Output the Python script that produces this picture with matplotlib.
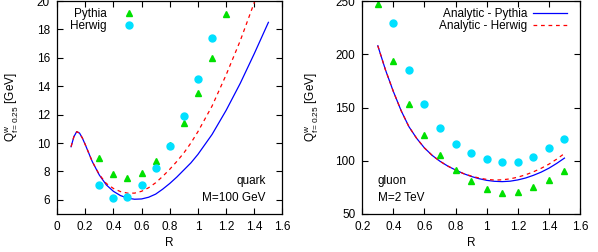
import matplotlib
matplotlib.use("Agg")
import matplotlib.pyplot as plt

plt.rcParams['font.family'] = ['Liberation Sans', 'DejaVu Sans']
plt.rcParams['mathtext.fontset'] = 'custom'
plt.rcParams['mathtext.rm'] = 'Liberation Sans'
plt.rcParams['mathtext.it'] = 'Liberation Sans'
plt.rcParams['mathtext.default'] = 'regular'

# quark, M=100 GeV
q_R_pythia = [0.3, 0.4, 0.5, 0.6, 0.7, 0.8, 0.9, 1.0, 1.1, 1.2]
q_pythia = [8.92, 7.8, 7.51, 7.89, 8.73, 9.85, 11.39, 13.5, 16.0, 19.06]
q_R_herwig = [0.3, 0.4, 0.5, 0.6, 0.7, 0.8, 0.9, 1.0, 1.1]
q_herwig = [7.04, 6.13, 6.22, 7.02, 8.22, 9.81, 11.9, 14.51, 17.42]

q_R_an_py = [0.10, 0.12, 0.14, 0.16, 0.18, 0.20, 0.25, 0.30, 0.35, 0.40, 0.45, 0.50, 0.55,
             0.60, 0.65, 0.70, 0.75, 0.80, 0.85, 0.90, 0.95, 1.00, 1.10, 1.20, 1.30, 1.40, 1.50]
q_an_py = [9.74, 10.45, 10.8, 10.7, 10.35, 9.9, 8.7, 7.75, 7.05, 6.6, 6.3, 6.12, 6.04,
           6.06, 6.18, 6.4, 6.75, 7.15, 7.6, 8.1, 8.6, 9.2, 10.6, 12.3, 14.2, 16.3, 18.5]
q_R_an_hw = [0.10, 0.12, 0.14, 0.16, 0.18, 0.20, 0.25, 0.30, 0.35, 0.40, 0.45, 0.50, 0.55,
             0.60, 0.65, 0.70, 0.75, 0.80, 0.85, 0.90, 0.95, 1.00, 1.10, 1.20, 1.30, 1.40, 1.42]
q_an_hw = [9.74, 10.45, 10.8, 10.7, 10.35, 9.9, 8.7, 7.78, 7.15, 6.8, 6.58, 6.47, 6.47,
           6.6, 6.85, 7.2, 7.65, 8.15, 8.7, 9.3, 10.0, 10.8, 12.6, 14.8, 17.2, 19.9, 20.5]

# gluon, M=2 TeV
g_R_pythia = [0.3, 0.4, 0.5, 0.6, 0.7, 0.8, 0.9, 1.0, 1.1, 1.2, 1.3, 1.4, 1.5]
g_pythia = [247, 193.7, 153.4, 124.4, 105, 90.9, 80.6, 73.4, 69.7, 70.9, 75.3, 81.5, 90.3]
g_R_herwig = [0.4, 0.5, 0.6, 0.7, 0.8, 0.9, 1.0, 1.1, 1.2, 1.3, 1.4, 1.5]
g_herwig = [229.7, 185.6, 153.4, 131.2, 115.6, 107.2, 101.6, 99.3, 99.3, 104, 111.9, 120]

g_R_an = [0.30, 0.35, 0.40, 0.45, 0.50, 0.55, 0.60, 0.65, 0.70, 0.75, 0.80, 0.85, 0.90,
          0.95, 1.00, 1.05, 1.10, 1.15, 1.20, 1.25, 1.30, 1.35, 1.40, 1.45, 1.50]
g_an_py = [208, 185, 165, 147, 132, 121, 112, 105, 99.5, 95, 91.3, 88, 85.3,
           83.2, 81.6, 80.7, 80.4, 80.8, 82, 83.8, 86.3, 89.3, 93, 97.5, 102.5]
g_an_hw = [208, 185, 165, 147, 132, 121, 112, 105, 99.5, 95, 91.3, 88, 85.7,
           83.8, 82.5, 81.9, 82.1, 83, 84.6, 86.8, 89.6, 92.9, 96.8, 101.5, 106.8]

green = '#00e000'
cyan = '#00e0ff'
fs = 8.5

fig = plt.figure(figsize=(5.98, 2.52), dpi=100)
ax1 = fig.add_axes([0.0953, 0.1508, 0.3771, 0.845])
ax2 = fig.add_axes([0.6058, 0.1508, 0.3641, 0.845])

# left panel
ax1.plot(q_R_an_py, q_an_py, color='blue', lw=0.9)
ax1.plot(q_R_an_hw, q_an_hw, color='red', lw=0.9, dashes=(3, 3))
ax1.plot(q_R_pythia, q_pythia, ls='none', marker='^', ms=4, color=green, label='Pythia')
ax1.plot(q_R_herwig, q_herwig, ls='none', marker='o', ms=5, color=cyan, label='Herwig')
ax1.set_xlim(0, 1.6)
ax1.set_ylim(5, 20)
ax1.set_yticks([6, 8, 10, 12, 14, 16, 18, 20])
ax1.text(0.925, 0.155, 'quark', transform=ax1.transAxes, ha='right', va='center', fontsize=fs)
ax1.text(0.925, 0.075, 'M=100 GeV', transform=ax1.transAxes, ha='right', va='center', fontsize=fs)
leg1 = ax1.legend(loc='upper right', bbox_to_anchor=(0.345, 0.968), markerfirst=False,
                  frameon=False, fontsize=fs, borderpad=0, handlelength=1.0,
                  handletextpad=1.4, labelspacing=0.05, borderaxespad=0)

# right panel
ax2.plot(g_R_an, g_an_py, color='blue', lw=0.9, label='Analytic - Pythia')
ax2.plot(g_R_an, g_an_hw, color='red', lw=0.9, dashes=(3, 3), label='Analytic - Herwig')
ax2.plot(g_R_pythia, g_pythia, ls='none', marker='^', ms=4, color=green)
ax2.plot(g_R_herwig, g_herwig, ls='none', marker='o', ms=5, color=cyan)
ax2.set_xlim(0.2, 1.6)
ax2.set_ylim(50, 250)
ax2.set_yticks([50, 100, 150, 200, 250])
ax2.text(0.07, 0.155, 'gluon', transform=ax2.transAxes, ha='left', va='center', fontsize=fs)
ax2.text(0.07, 0.075, 'M=2 TeV', transform=ax2.transAxes, ha='left', va='center', fontsize=fs)
leg2 = ax2.legend(loc='upper right', bbox_to_anchor=(0.939, 0.968), markerfirst=False,
                  frameon=False, fontsize=fs, borderpad=0, handlelength=2.85,
                  handletextpad=0.5, labelspacing=0.05, borderaxespad=0)

for ax in (ax1, ax2):
    ax.set_xticks([x / 10 for x in range(0 if ax is ax1 else 2, 17, 2)])
    ax.xaxis.set_major_formatter(matplotlib.ticker.FormatStrFormatter('%g'))
    ax.tick_params(direction='in', top=True, right=True, length=4, width=0.8,
                   labelsize=fs, pad=5)
    for s in ax.spines.values():
        s.set_linewidth(0.9)
    ax.set_xlabel('R', fontsize=fs, labelpad=3)
    ax.set_ylabel(r'$Q^{w}_{f=0.25}$ [GeV]', fontsize=fs)

ax1.yaxis.set_label_coords(-0.16, 0.5)
ax2.yaxis.set_label_coords(-0.19, 0.5)

fig.savefig('out.png', dpi=100)
